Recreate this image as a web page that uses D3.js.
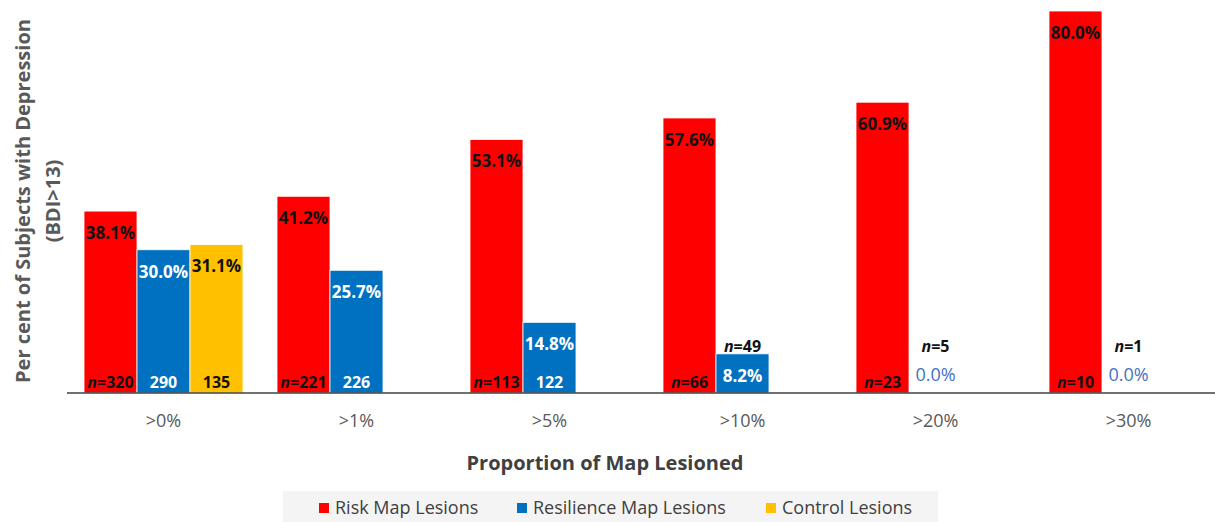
<!DOCTYPE html>
<html lang="en">
<head>
<meta charset="UTF-8">
<title>Depression by proportion of map lesioned</title>
<style>
  * {padding:0; margin:0;}
  body {background:#fff;}
  svg {display:block; font-family:"Open Sans", sans-serif;}
  .pct {font-size:17px; font-weight:700; text-anchor:middle;}
  .nlab {font-size:16px; font-weight:700; text-anchor:middle;}
  .tick text {font-family:"Open Sans", sans-serif; font-size:18px; fill:#595959;}
  .axisTitle {font-size:20px; font-weight:700; fill:#404040; text-anchor:middle;}
  .legText {font-size:18px; fill:#404040;}
</style>
</head>
<body>
<script src="https://cdn.jsdelivr.net/npm/d3@7"></script>
<svg id="chart" width="1215" height="522"></svg>
<script>
// data
var categories = [">0%", ">1%", ">5%", ">10%", ">20%", ">30%"];
var seriesNames = ["Risk Map Lesions", "Resilience Map Lesions", "Control Lesions"];
var seriesColors = ["#ff0000", "#0070c0", "#ffc000"];
var riskPct = [38.1, 41.2, 53.1, 57.6, 60.9, 80.0];
var resilPct = [30.0, 25.7, 14.8, 8.2, 0.0, 0.0];
var controlPct = [31.1, null, null, null, null, null];
var riskN = [320, 221, 113, 66, 23, 10];
var resilN = [290, 226, 122, 49, 5, 1];
var controlN = [135, null, null, null, null, null];

var svg = d3.select("#chart");
var plotLeft = 67, plotRight = 1225, plotBottom = 393, plotTop = 11;

var x0 = d3.scaleBand()
  .domain(categories)
  .range([plotLeft, plotRight])
  .paddingInner(34 / 193)
  .paddingOuter(17 / 193);
var x1 = d3.scaleBand()
  .domain([0, 1, 2])
  .range([0, x0.bandwidth()]);
var y = d3.scaleLinear().domain([0, 80]).range([plotBottom, plotTop]);

// rows: one per bar
var pcts = [riskPct, resilPct, controlPct];
var ns = [riskN, resilN, controlN];
var rows = [];
categories.forEach(function(c, i){
  for (var s = 0; s < 3; s++) {
    if (pcts[s][i] === null) continue;
    rows.push({cat: c, s: s, v: pcts[s][i], n: ns[s][i]});
  }
});

var g = svg.append("g");

g.selectAll("rect.bar")
  .data(rows)
  .enter()
  .append("rect")
  .attr("class", "bar")
  .attr("x", function(d){ return x0(d.cat) + x1(d.s); })
  .attr("width", x1.bandwidth())
  .attr("y", function(d){ return y(d.v); })
  .attr("height", function(d){ return y(0) - y(d.v); })
  .attr("fill", function(d){ return seriesColors[d.s]; })
  .attr("stroke", "#fff")
  .attr("stroke-width", 0.8);

// percentage labels
g.selectAll("text.pct")
  .data(rows)
  .enter()
  .append("text")
  .attr("class", "pct")
  .attr("x", function(d){ return x0(d.cat) + x1(d.s) + x1.bandwidth() / 2; })
  .attr("y", function(d){ return d.v === 0 ? y(0) - 12 : y(d.v) + 28; })
  .attr("fill", function(d){
    if (d.v === 0) return "#4472c4";
    return d.s === 1 ? "#fff" : "#111";
  })
  .style("font-weight", function(d){ return d.v === 0 ? 400 : 700; })
  .style("font-size", function(d){ return d.v === 0 ? "18px" : null; })
  .text(function(d){ return d.v.toFixed(1) + "%"; });

// n labels
var nText = g.selectAll("text.nlab")
  .data(rows)
  .enter()
  .append("text")
  .attr("class", "nlab")
  .attr("x", function(d){ return x0(d.cat) + x1(d.s) + x1.bandwidth() / 2; })
  .attr("y", function(d){ return d.v < 10 && d.s === 1 ? y(8.4) - 1 : y(0) - 5; })
  .attr("fill", function(d){
    if (d.s === 1 && d.v >= 10) return "#fff";
    return "#111";
  });
nText.filter(function(d){ return d.s === 0 || d.v < 10; })
  .append("tspan").style("font-style", "italic").text("n");
nText.append("tspan").text(function(d){
  return (d.s === 0 || d.v < 10 ? "=" : "") + d.n;
});

// x axis
var xAxis = svg.append("g")
  .attr("transform", "translate(0," + plotBottom + ")")
  .call(d3.axisBottom(x0).tickSize(0).tickPadding(0));
xAxis.select(".domain").attr("stroke", "#404040").attr("stroke-width", 1.5)
  .attr("d", "M" + plotLeft + ",0H" + plotRight);
xAxis.selectAll(".tick text").attr("dy", null).attr("y", 34);

// axis titles
svg.append("text")
  .attr("class", "axisTitle")
  .attr("x", 605)
  .attr("y", 470)
  .text("Proportion of Map Lesioned");

var yt = svg.append("text")
  .attr("class", "axisTitle")
  .style("fill", "#595959")
  .attr("transform", "translate(0,201) rotate(-90)");
yt.append("tspan").attr("x", 0).attr("y", 30).text("Per cent of Subjects with Depression");
yt.append("tspan").attr("x", 0).attr("y", 60).text("(BDI>13)");

// legend
var legX = [319, 517, 766];
svg.append("rect")
  .attr("x", 283).attr("y", 491)
  .attr("width", 655).attr("height", 31)
  .attr("fill", "#f4f4f4");
var leg = svg.selectAll("g.leg")
  .data(seriesNames)
  .enter()
  .append("g")
  .attr("class", "leg")
  .attr("transform", function(d, i){ return "translate(" + legX[i] + ",503)"; });
leg.append("rect")
  .attr("width", 10).attr("height", 10)
  .attr("fill", function(d, i){ return seriesColors[i]; });
leg.append("text")
  .attr("class", "legText")
  .attr("x", 16)
  .attr("y", 11)
  .text(function(d){ return d; });
</script>
</body>
</html>
